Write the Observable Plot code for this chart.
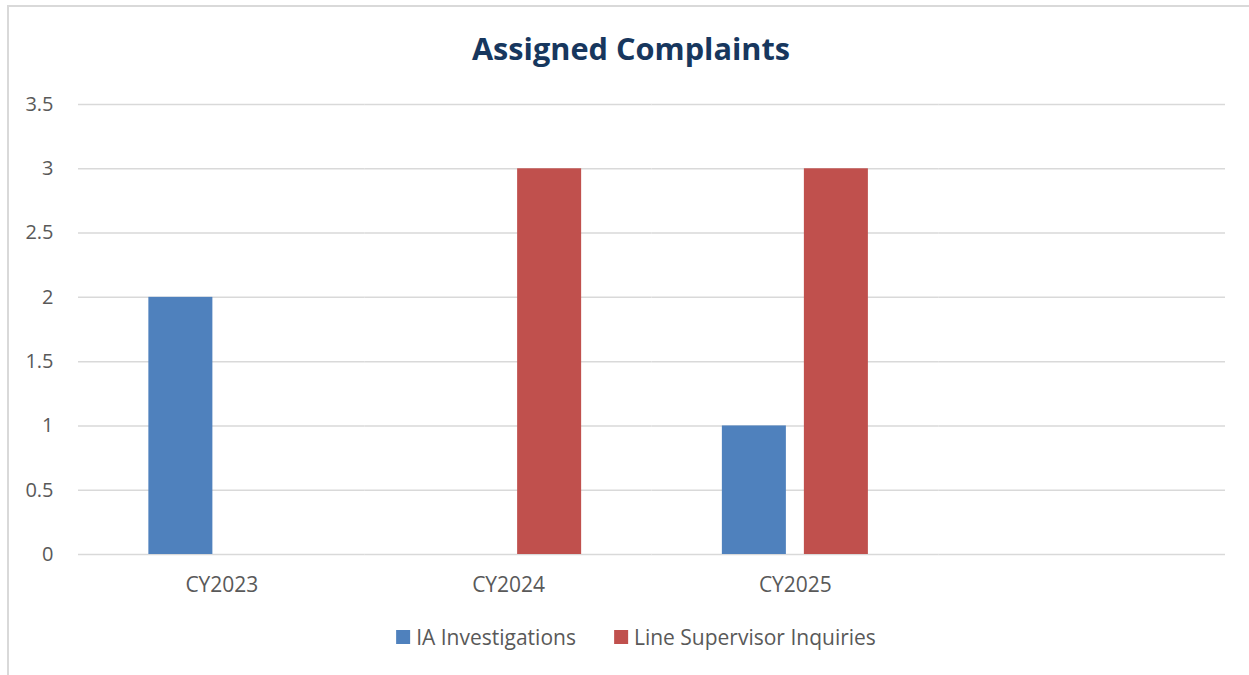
<!DOCTYPE html>
<html>
<head>
<meta charset="utf-8">
<script src="https://cdn.jsdelivr.net/npm/d3@7"></script>
<script src="https://cdn.jsdelivr.net/npm/@observablehq/plot@0.6"></script>
<style>
  html, body { margin: 0; padding: 0; background: #fff; }
  body { width: 1249px; height: 675px; position: relative; overflow: hidden; font-family: "Open Sans", sans-serif; }
  #frame { position: absolute; left: 7px; top: 5px; width: 1400px; height: 800px; border-left: 2px solid #d9d9d9; border-top: 2px solid #d9d9d9; box-sizing: border-box; }
  #title { position: absolute; left: 631px; top: 30px; transform: translateX(-50%); font-family: "Open Sans", sans-serif; font-weight: 700; font-size: 30.7px; color: #17375e; white-space: nowrap; line-height: 1.2; }
  #chart { position: absolute; left: 0; top: 0; }
  #legend { position: absolute; left: 636px; top: 623px; transform: translateX(-50%); display: flex; align-items: center; white-space: nowrap; font-size: 21px; color: #595959; }
  .item { display: flex; align-items: center; }
  .sw { width: 14px; height: 14px; margin-right: 6px; }
</style>
</head>
<body>
<div id="frame"></div>
<div id="title">Assigned Complaints</div>
<div id="chart"></div>
<div id="legend"></div>
<script>
const years = ["CY2023", "CY2024", "CY2025", ""];
const seriesNames = ["IA Investigations", "Line Supervisor Inquiries"];
const iaValues = [2, 0, 1];
const lsiValues = [0, 3, 3];
const colors = ["#4f81bd", "#c0504d"];
const yTicks = [0, 0.5, 1, 1.5, 2, 2.5, 3, 3.5];

const data = [];
years.slice(0, 3).forEach((y, i) => {
  data.push({year: y, series: seriesNames[0], value: iaValues[i]});
  data.push({year: y, series: seriesNames[1], value: lsiValues[i]});
});
// gridlines for every category slot (including the empty fourth one)
const grid = [];
years.forEach(y => yTicks.forEach(t => grid.push({year: y, tick: t})));

const chart = Plot.plot({
  width: 1249,
  height: 600,
  marginLeft: 78,
  marginRight: 24,
  marginTop: 104,
  marginBottom: 46,
  style: {fontFamily: "Open Sans, sans-serif", color: "#595959", background: "transparent", overflow: "visible"},
  fx: {domain: years, padding: 0, round: false, label: null},
  x: {domain: seriesNames, paddingInner: 0.2195, paddingOuter: 0.858, round: false, axis: null},
  y: {domain: [0, 3.5], ticks: yTicks, label: null},
  color: {domain: seriesNames, range: colors},
  marks: [
    Plot.ruleY(grid, {fx: "year", y: "tick", stroke: "#d9d9d9", strokeWidth: 1.5}),
    Plot.barY(data, {fx: "year", x: "series", y: "value", fill: "series"}),
    Plot.axisY({ticks: yTicks, tickSize: 0, tickPadding: 25, fontSize: 20, label: null, anchor: "left", tickFormat: d => String(d)}),
    Plot.axisFx({tickSize: 0, tickPadding: 23, fontSize: 21, label: null, anchor: "bottom"})
  ]
});
document.getElementById("chart").appendChild(chart);

const legend = document.getElementById("legend");
seriesNames.forEach((name, i) => {
  const item = document.createElement("div");
  item.className = "item";
  if (i > 0) item.style.marginLeft = "38px";
  const sw = document.createElement("div");
  sw.className = "sw";
  sw.style.background = colors[i];
  const label = document.createElement("span");
  label.textContent = name;
  item.appendChild(sw);
  item.appendChild(label);
  legend.appendChild(item);
});
</script>
</body>
</html>
